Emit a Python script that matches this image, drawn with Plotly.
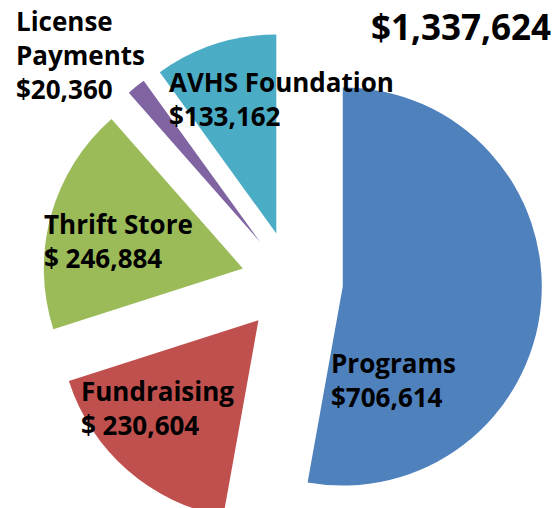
import plotly.graph_objects as go

# ---- data ----
labels = ["Programs", "Fundraising", "Thrift Store", "License Payments", "AVHS Foundation"]
values = [706614, 230604, 246884, 20360, 133162]
colors = ["#4F81BD", "#C0504D", "#9BBB59", "#8064A2", "#4BACC6"]
label_lines = [["Programs"], ["Fundraising"], ["Thrift Store"], ["License", "Payments"], ["AVHS Foundation"]]
value_prefix = ["$", "$ ", "$ ", "$", "$"]

# ---- layout / style ----
W, H = 553, 532
ML, MR, MT, MB = 42, 11, 32, 0
PULL = 0.256
FONT = "Open Sans"
LABEL_SIZE = 26
TITLE_SIZE = 35
REF_GAP = 31
X_PAD = 3
# left x and first baseline (pixels) of each label block
label_pos = [(332, 374), (82, 402), (45, 235), (17, 33), (170, 93)]
title_pos = (372, 39)

PW = W - ML - MR
PH = H - MT - MB


def px2paper(x, y):
    return (x - ML) / PW, 1 - (y - MT) / PH


fig = go.Figure(
    go.Pie(
        labels=labels,
        values=values,
        sort=False,
        direction="clockwise",
        rotation=0,
        pull=[PULL] * len(values),
        marker=dict(colors=colors, line=dict(width=0)),
        textinfo="none",
        hoverinfo="label+value",
        showlegend=False,
    )
)

annotations = []


def add_block(lines, x, first_baseline, size):
    n = len(lines)
    center = first_baseline + (n - 1) * REF_GAP / 2 - 0.36 * size
    px, py = px2paper(x - X_PAD, center)
    annotations.append(
        dict(
            text="<br>".join(lines), x=px, y=py, xref="paper", yref="paper",
            xanchor="left", yanchor="middle", align="left", showarrow=False,
            font=dict(family=FONT, size=size, color="black", weight="bold"),
        )
    )


for lines, pre, v, (lx, ly) in zip(label_lines, value_prefix, values, label_pos):
    add_block(lines + [f"{pre}{v:,}"], lx, ly, LABEL_SIZE)

add_block([f"${sum(values):,}"], title_pos[0], title_pos[1], TITLE_SIZE)

fig.update_layout(
    width=W, height=H,
    margin=dict(l=ML, r=MR, t=MT, b=MB),
    paper_bgcolor="white", plot_bgcolor="white",
    annotations=annotations,
)

fig.write_html(
    "out.html",
    config={"displayModeBar": False},
    post_script="document.body.style.margin='0px';document.body.style.overflow='hidden';",
)
